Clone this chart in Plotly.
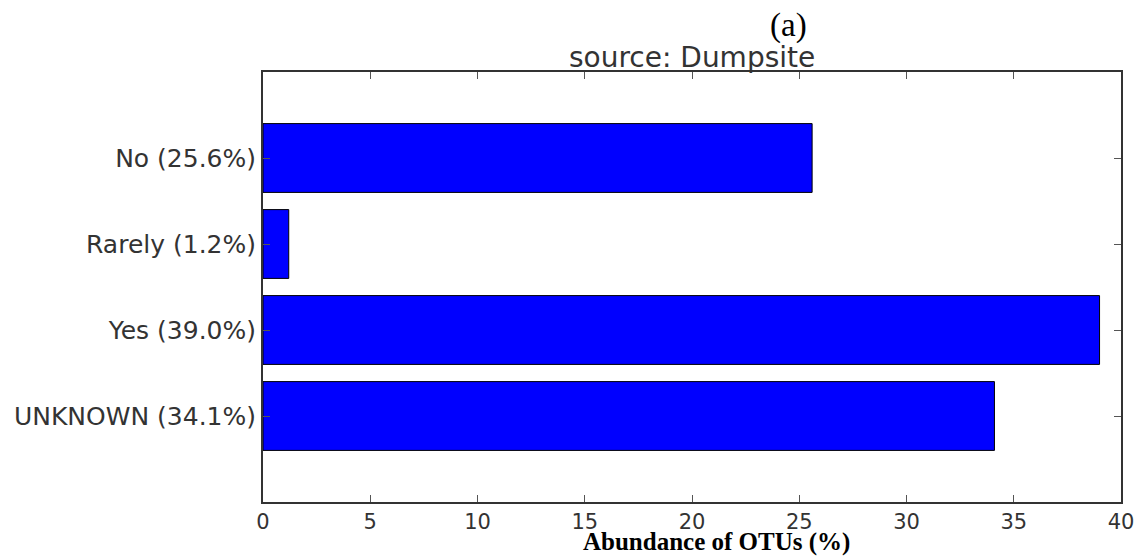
import plotly.graph_objects as go

categories = ["UNKNOWN (34.1%)", "Yes (39.0%)", "Rarely (1.2%)", "No (25.6%)"]
values = [34.1, 39.0, 1.2, 25.6]
x_ticks = [0, 5, 10, 15, 20, 25, 30, 35, 40]

W, H = 1146, 559
L, R, T, B = 263, 19, 72, 57
PH = H - T - B

fig = go.Figure()
fig.add_trace(go.Bar(
    x=values, y=categories, orientation="h", width=0.8,
    marker=dict(color="#0000FF", line=dict(color="#000000", width=1)),
    showlegend=False,
))

axis_common = dict(
    showline=True, linecolor="#333333", linewidth=2, mirror="allticks",
    ticks="inside", ticklen=7, tickcolor="#555555", tickwidth=1,
    showgrid=False, zeroline=False,
)

fig.update_layout(
    width=W, height=H,
    margin=dict(l=L, r=R, t=T, b=B, pad=0),
    plot_bgcolor="white", paper_bgcolor="white",
    font=dict(family="DejaVu Sans", color="#222222"),
    xaxis=dict(range=[0, 40], tickvals=x_ticks, ticktext=[str(v) for v in x_ticks],
               tickfont=dict(size=21, family="DejaVu Sans", color="#333333"),
               **axis_common),
    yaxis=dict(type="category", categoryorder="array", categoryarray=categories,
               range=[-1, 4], tickfont=dict(size=25, family="DejaVu Sans", color="#333333"),
               ticklabelstandoff=0, **axis_common),
    annotations=[
        dict(text="source: Dumpsite", xref="paper", yref="paper", x=0.5, y=1,
             xanchor="center", yanchor="bottom", yshift=-4, showarrow=False,
             font=dict(family="DejaVu Sans", size=28, color="#333333")),
        dict(text="(a)", xref="paper", yref="paper", x=(792 - L) / (W - L - R),
             y=1 + (T - 26) / PH, xanchor="center", yanchor="middle",
             showarrow=False, font=dict(family="Liberation Serif", size=33, color="#000000")),
        dict(text="<b>Abundance of OTUs (%)</b>", xref="paper", yref="paper",
             x=(720 - L) / (W - L - R), y=-(B - 1) / PH,
             xanchor="center", yanchor="bottom", showarrow=False,
             font=dict(family="Liberation Serif", size=25, color="#000000")),
    ],
)

fig.write_html("out.html")
